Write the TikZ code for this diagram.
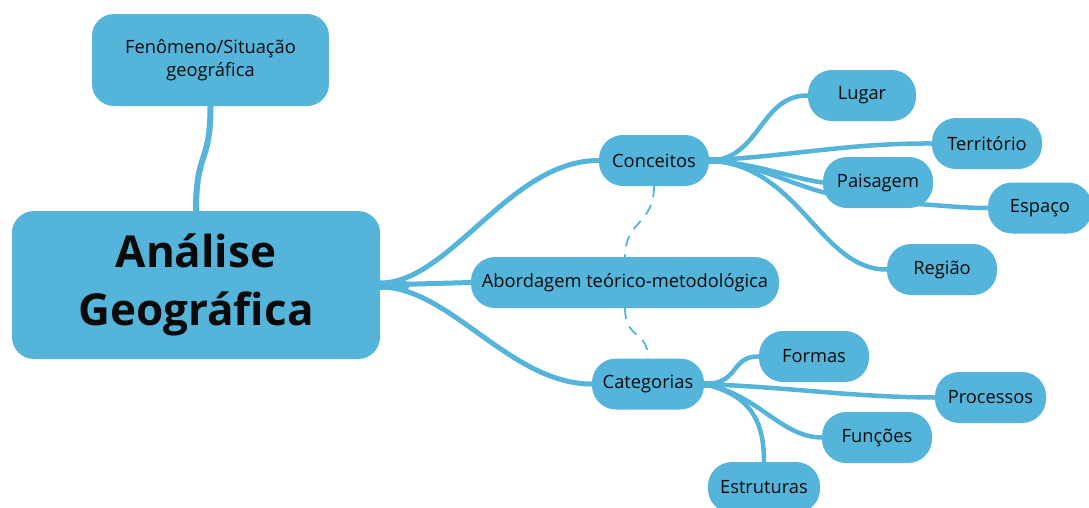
\documentclass[tikz,border=0pt]{standalone}
\usepackage{fontspec}
\setmainfont{Open Sans}
\usetikzlibrary{backgrounds}
\definecolor{nodeblue}{RGB}{84,180,218}
\definecolor{inkc}{RGB}{10,10,10}
\begin{document}
\begin{tikzpicture}[x=1pt,y=-1pt,
  pill/.style={fill=nodeblue, rounded corners=24pt, minimum height=51pt, inner sep=0pt, text=inkc, font=\fontsize{18.3}{23}\selectfont},
  link/.style={draw=nodeblue, line width=5pt, line cap=round},
  sublink/.style={draw=nodeblue, line width=4.5pt, line cap=round},
  dashlink/.style={draw=nodeblue, line width=1.8pt, dash pattern=on 11pt off 8pt}]
\useasboundingbox (0,0) rectangle (1089,507);
% nodes
\node[pill, minimum width=237pt, minimum height=92pt, rounded corners=22pt, align=center] (fen) at (210.5,60) {Fenômeno/Situação\\geográfica};
\node[pill, minimum width=368pt, minimum height=148pt, rounded corners=22pt, align=center, font=\fontsize{44}{58}\selectfont\bfseries] (ana) at (196,285) {Análise\\Geográfica};
\node[pill, minimum width=110pt] (conc) at (654,160.5) {Conceitos};
\node[pill, minimum width=308pt] (abo) at (625,282.5) {Abordagem teórico-metodológica};
\node[pill, minimum width=112pt] (cat) at (648,384) {Categorias};
\node[pill, minimum width=108pt] (lug) at (862,95.5) {Lugar};
\node[pill, minimum width=110pt] (ter) at (987,143.5) {Território};
\node[pill, minimum width=110pt] (pai) at (878,182.5) {Paisagem};
\node[pill, minimum width=104pt] (esp) at (1040,208) {Espaço};
\node[pill, minimum width=110pt] (reg) at (942,269.5) {Região};
\node[pill, minimum width=110pt] (for) at (814,356.5) {Formas};
\node[pill, minimum width=111pt] (pro) at (990.5,397.5) {Processos};
\node[pill, minimum width=110pt] (fun) at (877,437.5) {Funções};
\node[pill, minimum width=112pt] (est) at (764,487.5) {Estruturas};
% connectors
\begin{pgfonlayer}{background}
\draw[link, line width=6pt] (ana.north) .. controls (196,150) and (210.5,165) .. (fen.south);
\draw[link] ([yshift=2pt]ana.east) .. controls (450,283) and (510,160) .. (conc.west);
\draw[link] (ana.east) -- (abo.west);
\draw[link] ([yshift=-2pt]ana.east) .. controls (450,287) and (510,384) .. (cat.west);
\draw[link, line width=9pt] (ana.east) -- ++(25,0);
\draw[dashlink] (conc.south) .. controls (654,225) and (625,220) .. (abo.north);
\draw[dashlink] (abo.south) .. controls (625,340) and (648,330) .. (cat.north);
% Conceitos branches
\draw[sublink] (conc.east) .. controls (760,160) and (760,95) .. (lug.west);
\draw[sublink] (conc.east) .. controls (800,155) and (850,143) .. (ter.west);
\draw[sublink] (conc.east) .. controls (760,164) and (790,178) .. (pai.west);
\draw[sublink] (conc.east) .. controls (780,166) and (800,200) .. (900,203) .. controls (940,205) and (960,208) .. (esp.west);
\draw[sublink] (conc.east) .. controls (800,165) and (820,270) .. (reg.west);
\draw[link, line width=7pt] (conc.east) -- ++(12,0);
% Categorias branches
\draw[sublink] (cat.east) .. controls (740,384) and (730,356) .. (for.west);
\draw[sublink] (cat.east) .. controls (800,388) and (850,397) .. (pro.west);
\draw[sublink] (cat.east) .. controls (760,395) and (780,437) .. (fun.west);
\draw[sublink] (cat.east) .. controls (750,395) and (764,420) .. (est.north);
\draw[link, line width=7pt] (cat.east) -- ++(12,0);
\end{pgfonlayer}
\end{tikzpicture}
\end{document}
